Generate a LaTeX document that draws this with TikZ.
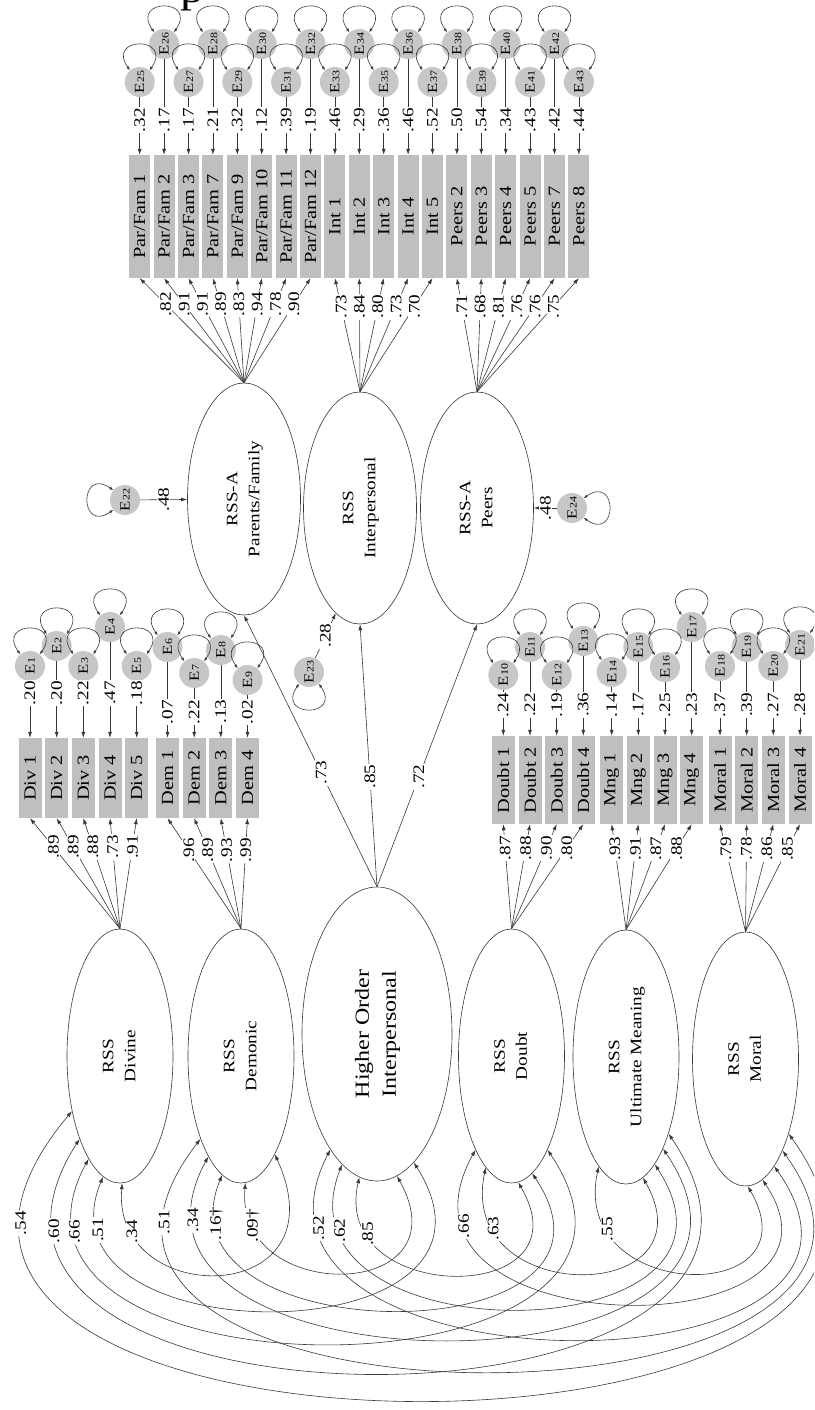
\documentclass[tikz,border=0pt]{standalone}
\usepackage{fontspec}
\setmainfont{Liberation Serif}[FakeStretch=1.2]
\usepackage{graphicx}
\usepackage{tikz}
\usetikzlibrary{shapes}
\usetikzlibrary{arrows.meta}
\definecolor{semBox}{rgb}{0.75,0.75,0.75}
\definecolor{semErr}{rgb}{0.78,0.78,0.78}
\definecolor{semLine}{rgb}{0.22,0.22,0.22}
\tikzstyle{observed} = [rectangle, fill=semBox, inner sep=0pt, rotate=90, font={\fontsize{17}{17}\selectfont}]
\tikzstyle{itemTop} = [observed, minimum width=123pt, minimum height=21pt]
\tikzstyle{itemLeft} = [observed, minimum width=80pt, minimum height=23pt]
\tikzstyle{itemRight} = [observed, minimum width=88pt, minimum height=23pt]
\tikzstyle{latent} = [ellipse, draw=semLine, line width=0.6pt, fill=white, inner sep=0pt,
        minimum width=106pt, minimum height=254pt, font={\fontsize{16}{22}\selectfont}]
\tikzstyle{error} = [circle, fill=semErr, inner sep=0pt, minimum size=30pt, rotate=90, font={\fontsize{14}{14}\selectfont}]
\tikzstyle{regress} = [draw=semLine, line width=0.6pt, -{Latex[length=6pt,width=4pt]}]
\tikzstyle{twoway} = [draw=semLine, line width=0.6pt, {Latex[length=6pt,width=4pt]}-{Latex[length=6pt,width=4pt]}]
\tikzstyle{varloop} = [draw=semLine, line width=0.6pt, {Latex[length=4pt,width=3pt]}-{Latex[length=4pt,width=3pt]}]
\tikzstyle{coef} = [rotate=90, fill=white, inner sep=1pt, font={\fontsize{16}{16}\selectfont}]

\begin{document}
\begin{tikzpicture}[x=1pt, y=1pt]
        \useasboundingbox (0,0) rectangle (814,-1410);
        \clip (0,0) rectangle (814,-1410);
        \node [font={\fontsize{40}{40}\selectfont}, anchor=base west, inner sep=0pt] (caption) at (180,-3) {p};

        % interpersonal factors
        \node [latent, minimum width=113pt, minimum height=232pt] (pfam) at (244,-499)
            {\rotatebox{90}{\begin{tabular}{@{}c@{}}RSS-A\\Parents/Family\end{tabular}}};
        \node [latent, minimum width=113pt, minimum height=232pt] (interp) at (360,-508)
            {\rotatebox{90}{\begin{tabular}{@{}c@{}}RSS\\Interpersonal\end{tabular}}};
        \node [latent, minimum width=113pt, minimum height=232pt] (peers) at (477,-508)
            {\rotatebox{90}{\begin{tabular}{@{}c@{}}RSS-A\\Peers\end{tabular}}};
        \node [latent, minimum width=150pt, minimum height=294pt, font={\fontsize{20}{27}\selectfont}] (higher) at (377,-1034)
            {\rotatebox{90}{\begin{tabular}{@{}c@{}}Higher Order\\Interpersonal\end{tabular}}};
        \node [latent] (divine) at (120,-1056) {\rotatebox{90}{\begin{tabular}{@{}c@{}}RSS\\Divine\end{tabular}}};
        \node [latent] (demonic) at (241,-1056) {\rotatebox{90}{\begin{tabular}{@{}c@{}}RSS\\Demonic\end{tabular}}};
        \node [latent] (doubt) at (511.5,-1056) {\rotatebox{90}{\begin{tabular}{@{}c@{}}RSS\\Doubt\end{tabular}}};
        \node [latent] (meaning) at (626,-1057) {\rotatebox{90}{\begin{tabular}{@{}c@{}}RSS\\Ultimate Meaning\end{tabular}}};
        \node [latent] (moral) at (745.5,-1059) {\rotatebox{90}{\begin{tabular}{@{}c@{}}RSS\\Moral\end{tabular}}};

        % items of the interpersonal factors
        \node [itemTop] (pf1) at (139.7,-216.5) {Par/Fam 1};
        \node [itemTop] (pf2) at (164.1,-216.5) {Par/Fam 2};
        \node [itemTop] (pf3) at (188.5,-216.5) {Par/Fam 3};
        \node [itemTop] (pf7) at (212.9,-216.5) {Par/Fam 7};
        \node [itemTop] (pf9) at (237.3,-216.5) {Par/Fam 9};
        \node [itemTop] (pf10) at (261.7,-216.5) {Par/Fam 10};
        \node [itemTop] (pf11) at (286.1,-216.5) {Par/Fam 11};
        \node [itemTop] (pf12) at (310.5,-216.5) {Par/Fam 12};
        \node [itemTop] (int1) at (334.9,-216.5) {Int 1};
        \node [itemTop] (int2) at (359.3,-216.5) {Int 2};
        \node [itemTop] (int3) at (383.7,-216.5) {Int 3};
        \node [itemTop] (int4) at (408.1,-216.5) {Int 4};
        \node [itemTop] (int5) at (432.5,-216.5) {Int 5};
        \node [itemTop] (pe2) at (456.9,-216.5) {Peers 2};
        \node [itemTop] (pe3) at (481.3,-216.5) {Peers 3};
        \node [itemTop] (pe4) at (505.7,-216.5) {Peers 4};
        \node [itemTop] (pe5) at (530.1,-216.5) {Peers 5};
        \node [itemTop] (pe7) at (554.5,-216.5) {Peers 7};
        \node [itemTop] (pe8) at (578.9,-216.5) {Peers 8};

        \node [error] (e25) at (139.7,-82) {E{\fontsize{10}{10}\selectfont 25}};
        \node [error] (e26) at (164.1,-44) {E{\fontsize{10}{10}\selectfont 26}};
        \node [error] (e27) at (188.5,-82) {E{\fontsize{10}{10}\selectfont 27}};
        \node [error] (e28) at (212.9,-44) {E{\fontsize{10}{10}\selectfont 28}};
        \node [error] (e29) at (237.3,-82) {E{\fontsize{10}{10}\selectfont 29}};
        \node [error] (e30) at (261.7,-44) {E{\fontsize{10}{10}\selectfont 30}};
        \node [error] (e31) at (286.1,-82) {E{\fontsize{10}{10}\selectfont 31}};
        \node [error] (e32) at (310.5,-44) {E{\fontsize{10}{10}\selectfont 32}};
        \node [error] (e33) at (334.9,-82) {E{\fontsize{10}{10}\selectfont 33}};
        \node [error] (e34) at (359.3,-44) {E{\fontsize{10}{10}\selectfont 34}};
        \node [error] (e35) at (383.7,-82) {E{\fontsize{10}{10}\selectfont 35}};
        \node [error] (e36) at (408.1,-44) {E{\fontsize{10}{10}\selectfont 36}};
        \node [error] (e37) at (432.5,-82) {E{\fontsize{10}{10}\selectfont 37}};
        \node [error] (e38) at (456.9,-44) {E{\fontsize{10}{10}\selectfont 38}};
        \node [error] (e39) at (481.3,-82) {E{\fontsize{10}{10}\selectfont 39}};
        \node [error] (e40) at (505.7,-44) {E{\fontsize{10}{10}\selectfont 40}};
        \node [error] (e41) at (530.1,-82) {E{\fontsize{10}{10}\selectfont 41}};
        \node [error] (e42) at (554.5,-44) {E{\fontsize{10}{10}\selectfont 42}};
        \node [error] (e43) at (578.9,-82) {E{\fontsize{10}{10}\selectfont 43}};

        \draw [varloop] (e25.40) to[out=125,in=55,looseness=5.5] (e25.-40);
        \draw [varloop] (e26.40) to[out=125,in=55,looseness=5.5] (e26.-40);
        \draw [varloop] (e27.40) to[out=125,in=55,looseness=5.5] (e27.-40);
        \draw [varloop] (e28.40) to[out=125,in=55,looseness=5.5] (e28.-40);
        \draw [varloop] (e29.40) to[out=125,in=55,looseness=5.5] (e29.-40);
        \draw [varloop] (e30.40) to[out=125,in=55,looseness=5.5] (e30.-40);
        \draw [varloop] (e31.40) to[out=125,in=55,looseness=5.5] (e31.-40);
        \draw [varloop] (e32.40) to[out=125,in=55,looseness=5.5] (e32.-40);
        \draw [varloop] (e33.40) to[out=125,in=55,looseness=5.5] (e33.-40);
        \draw [varloop] (e34.40) to[out=125,in=55,looseness=5.5] (e34.-40);
        \draw [varloop] (e35.40) to[out=125,in=55,looseness=5.5] (e35.-40);
        \draw [varloop] (e36.40) to[out=125,in=55,looseness=5.5] (e36.-40);
        \draw [varloop] (e37.40) to[out=125,in=55,looseness=5.5] (e37.-40);
        \draw [varloop] (e38.40) to[out=125,in=55,looseness=5.5] (e38.-40);
        \draw [varloop] (e39.40) to[out=125,in=55,looseness=5.5] (e39.-40);
        \draw [varloop] (e40.40) to[out=125,in=55,looseness=5.5] (e40.-40);
        \draw [varloop] (e41.40) to[out=125,in=55,looseness=5.5] (e41.-40);
        \draw [varloop] (e42.40) to[out=125,in=55,looseness=5.5] (e42.-40);
        \draw [varloop] (e43.40) to[out=125,in=55,looseness=5.5] (e43.-40);

        \draw [regress] (e25) -- node [coef, pos=0.40] {.32} (pf1.east);
        \draw [regress] (e26) -- node [coef, pos=0.64] {.17} (pf2.east);
        \draw [regress] (e27) -- node [coef, pos=0.40] {.17} (pf3.east);
        \draw [regress] (e28) -- node [coef, pos=0.64] {.21} (pf7.east);
        \draw [regress] (e29) -- node [coef, pos=0.40] {.32} (pf9.east);
        \draw [regress] (e30) -- node [coef, pos=0.64] {.12} (pf10.east);
        \draw [regress] (e31) -- node [coef, pos=0.40] {.39} (pf11.east);
        \draw [regress] (e32) -- node [coef, pos=0.64] {.19} (pf12.east);
        \draw [regress] (e33) -- node [coef, pos=0.40] {.46} (int1.east);
        \draw [regress] (e34) -- node [coef, pos=0.64] {.29} (int2.east);
        \draw [regress] (e35) -- node [coef, pos=0.40] {.36} (int3.east);
        \draw [regress] (e36) -- node [coef, pos=0.64] {.46} (int4.east);
        \draw [regress] (e37) -- node [coef, pos=0.40] {.52} (int5.east);
        \draw [regress] (e38) -- node [coef, pos=0.64] {.50} (pe2.east);
        \draw [regress] (e39) -- node [coef, pos=0.40] {.54} (pe3.east);
        \draw [regress] (e40) -- node [coef, pos=0.64] {.34} (pe4.east);
        \draw [regress] (e41) -- node [coef, pos=0.40] {.43} (pe5.east);
        \draw [regress] (e42) -- node [coef, pos=0.64] {.42} (pe7.east);
        \draw [regress] (e43) -- node [coef, pos=0.40] {.44} (pe8.east);

        \draw [regress] (pfam.north) -- node [coef, pos=0.75] {.82} (pf1.west);
        \draw [regress] (pfam.north) -- node [coef, pos=0.75] {.91} (pf2.west);
        \draw [regress] (pfam.north) -- node [coef, pos=0.75] {.91} (pf3.west);
        \draw [regress] (pfam.north) -- node [coef, pos=0.75] {.89} (pf7.west);
        \draw [regress] (pfam.north) -- node [coef, pos=0.75] {.83} (pf9.west);
        \draw [regress] (pfam.north) -- node [coef, pos=0.75] {.94} (pf10.west);
        \draw [regress] (pfam.north) -- node [coef, pos=0.75] {.78} (pf11.west);
        \draw [regress] (pfam.north) -- node [coef, pos=0.75] {.90} (pf12.west);
        \draw [regress] (interp.north) -- node [coef, pos=0.75] {.73} (int1.west);
        \draw [regress] (interp.north) -- node [coef, pos=0.75] {.84} (int2.west);
        \draw [regress] (interp.north) -- node [coef, pos=0.75] {.80} (int3.west);
        \draw [regress] (interp.north) -- node [coef, pos=0.75] {.73} (int4.west);
        \draw [regress] (interp.north) -- node [coef, pos=0.75] {.70} (int5.west);
        \draw [regress] (peers.north) -- node [coef, pos=0.75] {.71} (pe2.west);
        \draw [regress] (peers.north) -- node [coef, pos=0.75] {.68} (pe3.west);
        \draw [regress] (peers.north) -- node [coef, pos=0.75] {.81} (pe4.west);
        \draw [regress] (peers.north) -- node [coef, pos=0.75] {.76} (pe5.west);
        \draw [regress] (peers.north) -- node [coef, pos=0.75] {.76} (pe7.west);
        \draw [regress] (peers.north) -- node [coef, pos=0.75] {.75} (pe8.west);

        % disturbances of the interpersonal factors
        \node [error] (e22) at (125,-500) {E{\fontsize{10}{10}\selectfont 22}};
        \node [error] (e23) at (309,-672) {E{\fontsize{10}{10}\selectfont 23}};
        \node [error] (e24) at (572,-508) {E{\fontsize{10}{10}\selectfont 24}};
        \draw [varloop] (e22.50) to[out=145,in=215,looseness=5.5] (e22.130);
        \draw [varloop] (e23.140) to[out=235,in=305,looseness=5.5] (e23.220);
        \draw [varloop] (e24.-50) to[out=35,in=-35,looseness=5.5] (e24.-130);
        \draw [regress] (e22) -- node [coef] {.48} (pfam);
        \draw [regress] (e23) -- node [coef] {.28} (interp.257);
        \draw [regress] (e24) -- node [coef] {.48} (peers);

        \draw [regress] (higher.north) -- node [coef, pos=0.42] {.73} (pfam.south);
        \draw [regress] (higher.north) -- node [coef, pos=0.42] {.85} (interp.south);
        \draw [regress] (higher.north) -- node [coef, pos=0.42] {.72} (peers.south);

        % items of the other factors
        \node [itemLeft] (div1) at (30,-778) {Div 1};
        \node [itemLeft] (div2) at (56.7,-778) {Div 2};
        \node [itemLeft] (div3) at (83.3,-778) {Div 3};
        \node [itemLeft] (div4) at (110,-778) {Div 4};
        \node [itemLeft] (div5) at (136.7,-778) {Div 5};
        \node [itemLeft] (dem1) at (167.5,-778) {Dem 1};
        \node [itemLeft] (dem2) at (194.2,-778) {Dem 2};
        \node [itemLeft] (dem3) at (220.8,-778) {Dem 3};
        \node [itemLeft] (dem4) at (247.5,-778) {Dem 4};
        \node [itemRight] (dbt1) at (503.3,-780) {Doubt 1};
        \node [itemRight] (dbt2) at (530,-780) {Doubt 2};
        \node [itemRight] (dbt3) at (556.7,-780) {Doubt 3};
        \node [itemRight] (dbt4) at (583.3,-780) {Doubt 4};
        \node [itemRight] (mng1) at (611.7,-780) {Mng 1};
        \node [itemRight] (mng2) at (638.3,-780) {Mng 2};
        \node [itemRight] (mng3) at (665,-780) {Mng 3};
        \node [itemRight] (mng4) at (691.7,-780) {Mng 4};
        \node [itemRight] (mor1) at (720,-780) {Moral 1};
        \node [itemRight] (mor2) at (746.7,-780) {Moral 2};
        \node [itemRight] (mor3) at (773.3,-780) {Moral 3};
        \node [itemRight] (mor4) at (800,-780) {Moral 4};

        \node [error] (e1) at (30,-666) {E{\fontsize{10}{10}\selectfont 1}};
        \node [error] (e2) at (56.7,-646) {E{\fontsize{10}{10}\selectfont 2}};
        \node [error] (e3) at (83.3,-666) {E{\fontsize{10}{10}\selectfont 3}};
        \node [error] (e4) at (110,-627) {E{\fontsize{10}{10}\selectfont 4}};
        \node [error] (e5) at (136.7,-666) {E{\fontsize{10}{10}\selectfont 5}};
        \node [error] (e6) at (167.5,-647) {E{\fontsize{10}{10}\selectfont 6}};
        \node [error] (e7) at (194.2,-673) {E{\fontsize{10}{10}\selectfont 7}};
        \node [error] (e8) at (220.8,-650) {E{\fontsize{10}{10}\selectfont 8}};
        \node [error] (e9) at (247.5,-680) {E{\fontsize{10}{10}\selectfont 9}};
        \node [error] (e10) at (503.3,-675) {E{\fontsize{10}{10}\selectfont 10}};
        \node [error] (e11) at (530,-647) {E{\fontsize{10}{10}\selectfont 11}};
        \node [error] (e12) at (556.7,-675) {E{\fontsize{10}{10}\selectfont 12}};
        \node [error] (e13) at (583.3,-641) {E{\fontsize{10}{10}\selectfont 13}};
        \node [error] (e14) at (611.7,-672) {E{\fontsize{10}{10}\selectfont 14}};
        \node [error] (e15) at (638.3,-647) {E{\fontsize{10}{10}\selectfont 15}};
        \node [error] (e16) at (665,-667) {E{\fontsize{10}{10}\selectfont 16}};
        \node [error] (e17) at (691.7,-627) {E{\fontsize{10}{10}\selectfont 17}};
        \node [error] (e18) at (720,-666) {E{\fontsize{10}{10}\selectfont 18}};
        \node [error] (e19) at (746.7,-647) {E{\fontsize{10}{10}\selectfont 19}};
        \node [error] (e20) at (773.3,-666) {E{\fontsize{10}{10}\selectfont 20}};
        \node [error] (e21) at (800,-645) {E{\fontsize{10}{10}\selectfont 21}};

        \draw [varloop] (e1.40) to[out=125,in=55,looseness=5.5] (e1.-40);
        \draw [varloop] (e2.40) to[out=125,in=55,looseness=5.5] (e2.-40);
        \draw [varloop] (e3.40) to[out=125,in=55,looseness=5.5] (e3.-40);
        \draw [varloop] (e4.40) to[out=125,in=55,looseness=5.5] (e4.-40);
        \draw [varloop] (e5.40) to[out=125,in=55,looseness=5.5] (e5.-40);
        \draw [varloop] (e6.40) to[out=125,in=55,looseness=5.5] (e6.-40);
        \draw [varloop] (e7.40) to[out=125,in=55,looseness=5.5] (e7.-40);
        \draw [varloop] (e8.40) to[out=125,in=55,looseness=5.5] (e8.-40);
        \draw [varloop] (e9.40) to[out=125,in=55,looseness=5.5] (e9.-40);
        \draw [varloop] (e10.40) to[out=125,in=55,looseness=5.5] (e10.-40);
        \draw [varloop] (e11.40) to[out=125,in=55,looseness=5.5] (e11.-40);
        \draw [varloop] (e12.40) to[out=125,in=55,looseness=5.5] (e12.-40);
        \draw [varloop] (e13.40) to[out=125,in=55,looseness=5.5] (e13.-40);
        \draw [varloop] (e14.40) to[out=125,in=55,looseness=5.5] (e14.-40);
        \draw [varloop] (e15.40) to[out=125,in=55,looseness=5.5] (e15.-40);
        \draw [varloop] (e16.40) to[out=125,in=55,looseness=5.5] (e16.-40);
        \draw [varloop] (e17.40) to[out=125,in=55,looseness=5.5] (e17.-40);
        \draw [varloop] (e18.40) to[out=125,in=55,looseness=5.5] (e18.-40);
        \draw [varloop] (e19.40) to[out=125,in=55,looseness=5.5] (e19.-40);
        \draw [varloop] (e20.40) to[out=125,in=55,looseness=5.5] (e20.-40);
        \draw [varloop] (e21.40) to[out=125,in=55,looseness=5.5] (e21.-40);

        \draw [regress] (e1) -- node [coef, pos=0.21] {.20} (div1.east);
        \draw [regress] (e2) -- node [coef, pos=0.42] {.20} (div2.east);
        \draw [regress] (e3) -- node [coef, pos=0.21] {.22} (div3.east);
        \draw [regress] (e4) -- node [coef, pos=0.53] {.47} (div4.east);
        \draw [regress] (e5) -- node [coef, pos=0.21] {.18} (div5.east);
        \draw [regress] (e6) -- node [coef, pos=0.66] {.07} (dem1.east);
        \draw [regress] (e7) -- node [coef, pos=0.48] {.22} (dem2.east);
        \draw [regress] (e8) -- node [coef, pos=0.64] {.13} (dem3.east);
        \draw [regress] (e9) -- node [coef, pos=0.40] {.02} (dem4.east);
        \draw [regress] (e10) -- node [coef, pos=0.33] {.24} (dbt1.east);
        \draw [regress] (e11) -- node [coef, pos=0.58] {.22} (dbt2.east);
        \draw [regress] (e12) -- node [coef, pos=0.33] {.19} (dbt3.east);
        \draw [regress] (e13) -- node [coef, pos=0.61] {.36} (dbt4.east);
        \draw [regress] (e14) -- node [coef, pos=0.37] {.14} (mng1.east);
        \draw [regress] (e15) -- node [coef, pos=0.58] {.17} (mng2.east);
        \draw [regress] (e16) -- node [coef, pos=0.43] {.25} (mng3.east);
        \draw [regress] (e17) -- node [coef, pos=0.67] {.23} (mng4.east);
        \draw [regress] (e18) -- node [coef, pos=0.44] {.37} (mor1.east);
        \draw [regress] (e19) -- node [coef, pos=0.58] {.39} (mor2.east);
        \draw [regress] (e20) -- node [coef, pos=0.44] {.27} (mor3.east);
        \draw [regress] (e21) -- node [coef, pos=0.59] {.28} (mor4.east);

        \draw [regress] (divine.north) -- node [coef, pos=0.74] {.89} (div1.west);
        \draw [regress] (divine.north) -- node [coef, pos=0.74] {.89} (div2.west);
        \draw [regress] (divine.north) -- node [coef, pos=0.74] {.88} (div3.west);
        \draw [regress] (divine.north) -- node [coef, pos=0.74] {.73} (div4.west);
        \draw [regress] (divine.north) -- node [coef, pos=0.74] {.91} (div5.west);
        \draw [regress] (demonic.north) -- node [coef, pos=0.71] {.96} (dem1.west);
        \draw [regress] (demonic.north) -- node [coef, pos=0.71] {.89} (dem2.west);
        \draw [regress] (demonic.north) -- node [coef, pos=0.71] {.93} (dem3.west);
        \draw [regress] (demonic.north) -- node [coef, pos=0.71] {.99} (dem4.west);
        \draw [regress] (doubt.north) -- node [coef, pos=0.77] {.87} (dbt1.west);
        \draw [regress] (doubt.north) -- node [coef, pos=0.77] {.88} (dbt2.west);
        \draw [regress] (doubt.north) -- node [coef, pos=0.77] {.90} (dbt3.west);
        \draw [regress] (doubt.north) -- node [coef, pos=0.77] {.80} (dbt4.west);
        \draw [regress] (meaning.north) -- node [coef, pos=0.77] {.93} (mng1.west);
        \draw [regress] (meaning.north) -- node [coef, pos=0.77] {.91} (mng2.west);
        \draw [regress] (meaning.north) -- node [coef, pos=0.77] {.87} (mng3.west);
        \draw [regress] (meaning.north) -- node [coef, pos=0.77] {.88} (mng4.west);
        \draw [regress] (moral.north) -- node [coef, pos=0.77] {.79} (mor1.west);
        \draw [regress] (moral.north) -- node [coef, pos=0.77] {.78} (mor2.west);
        \draw [regress] (moral.north) -- node [coef, pos=0.77] {.86} (mor3.west);
        \draw [regress] (moral.north) -- node [coef, pos=0.77] {.85} (mor4.west);

        % factor covariances
        \draw [twoway] (divine.271) .. controls +(-11,-127) and +(70,-154) .. node [coef, pos=0.15] {.34} (demonic.289);
        \draw [twoway] (divine.262) .. controls +(-75,-181) and +(123,-195) .. node [coef, pos=0.11] {.51} (higher.286);
        \draw [twoway] (divine.253) .. controls +(-134,-249) and +(172,-256) .. node [coef, pos=0.11] {.66} (doubt.291);
        \draw [twoway] (divine.244) .. controls +(-200,-314) and +(215,-318) .. node [coef, pos=0.11] {.60} (meaning.299);
        \draw [twoway] (divine.229) .. controls +(-320,-380) and +(260,-361) .. node [coef, pos=0.11] {.54} (moral.300);
        \draw [twoway] (demonic.272) .. controls +(-11,-123) and +(70,-126) .. node [coef, pos=0.135] {.09†} (higher.278);
        \draw [twoway] (demonic.261) .. controls +(-74,-179) and +(123,-184) .. node [coef, pos=0.10] {.16†} (doubt.280);
        \draw [twoway] (demonic.252) .. controls +(-133,-245) and +(171,-254) .. node [coef, pos=0.096] {.34} (meaning.292);
        \draw [twoway] (demonic.244) .. controls +(-240,-309) and +(212,-296) .. node [coef, pos=0.10] {.51} (moral.292);
        \draw [twoway] (higher.263) .. controls +(-30,-129) and +(73,-125) .. node [coef, pos=0.178] {.85} (doubt.273);
        \draw [twoway] (higher.255) .. controls +(-76,-195) and +(124,-191) .. node [coef, pos=0.13] {.62} (meaning.285);
        \draw [twoway] (higher.248) .. controls +(-128,-248) and +(167,-236) .. node [coef, pos=0.12] {.52} (moral.285);
        \draw [twoway] (doubt.257) .. controls +(-30,-141) and +(72,-128) .. node [coef, pos=0.175] {.63} (meaning.278);
        \draw [twoway] (doubt.249) .. controls +(-110,-199) and +(115,-172) .. node [coef, pos=0.15] {.66} (moral.278);
        \draw [twoway] (meaning.256) .. controls +(-30,-137) and +(70,-121) .. node [coef, pos=0.187] {.55} (moral.271);
\end{tikzpicture}
\end{document}
